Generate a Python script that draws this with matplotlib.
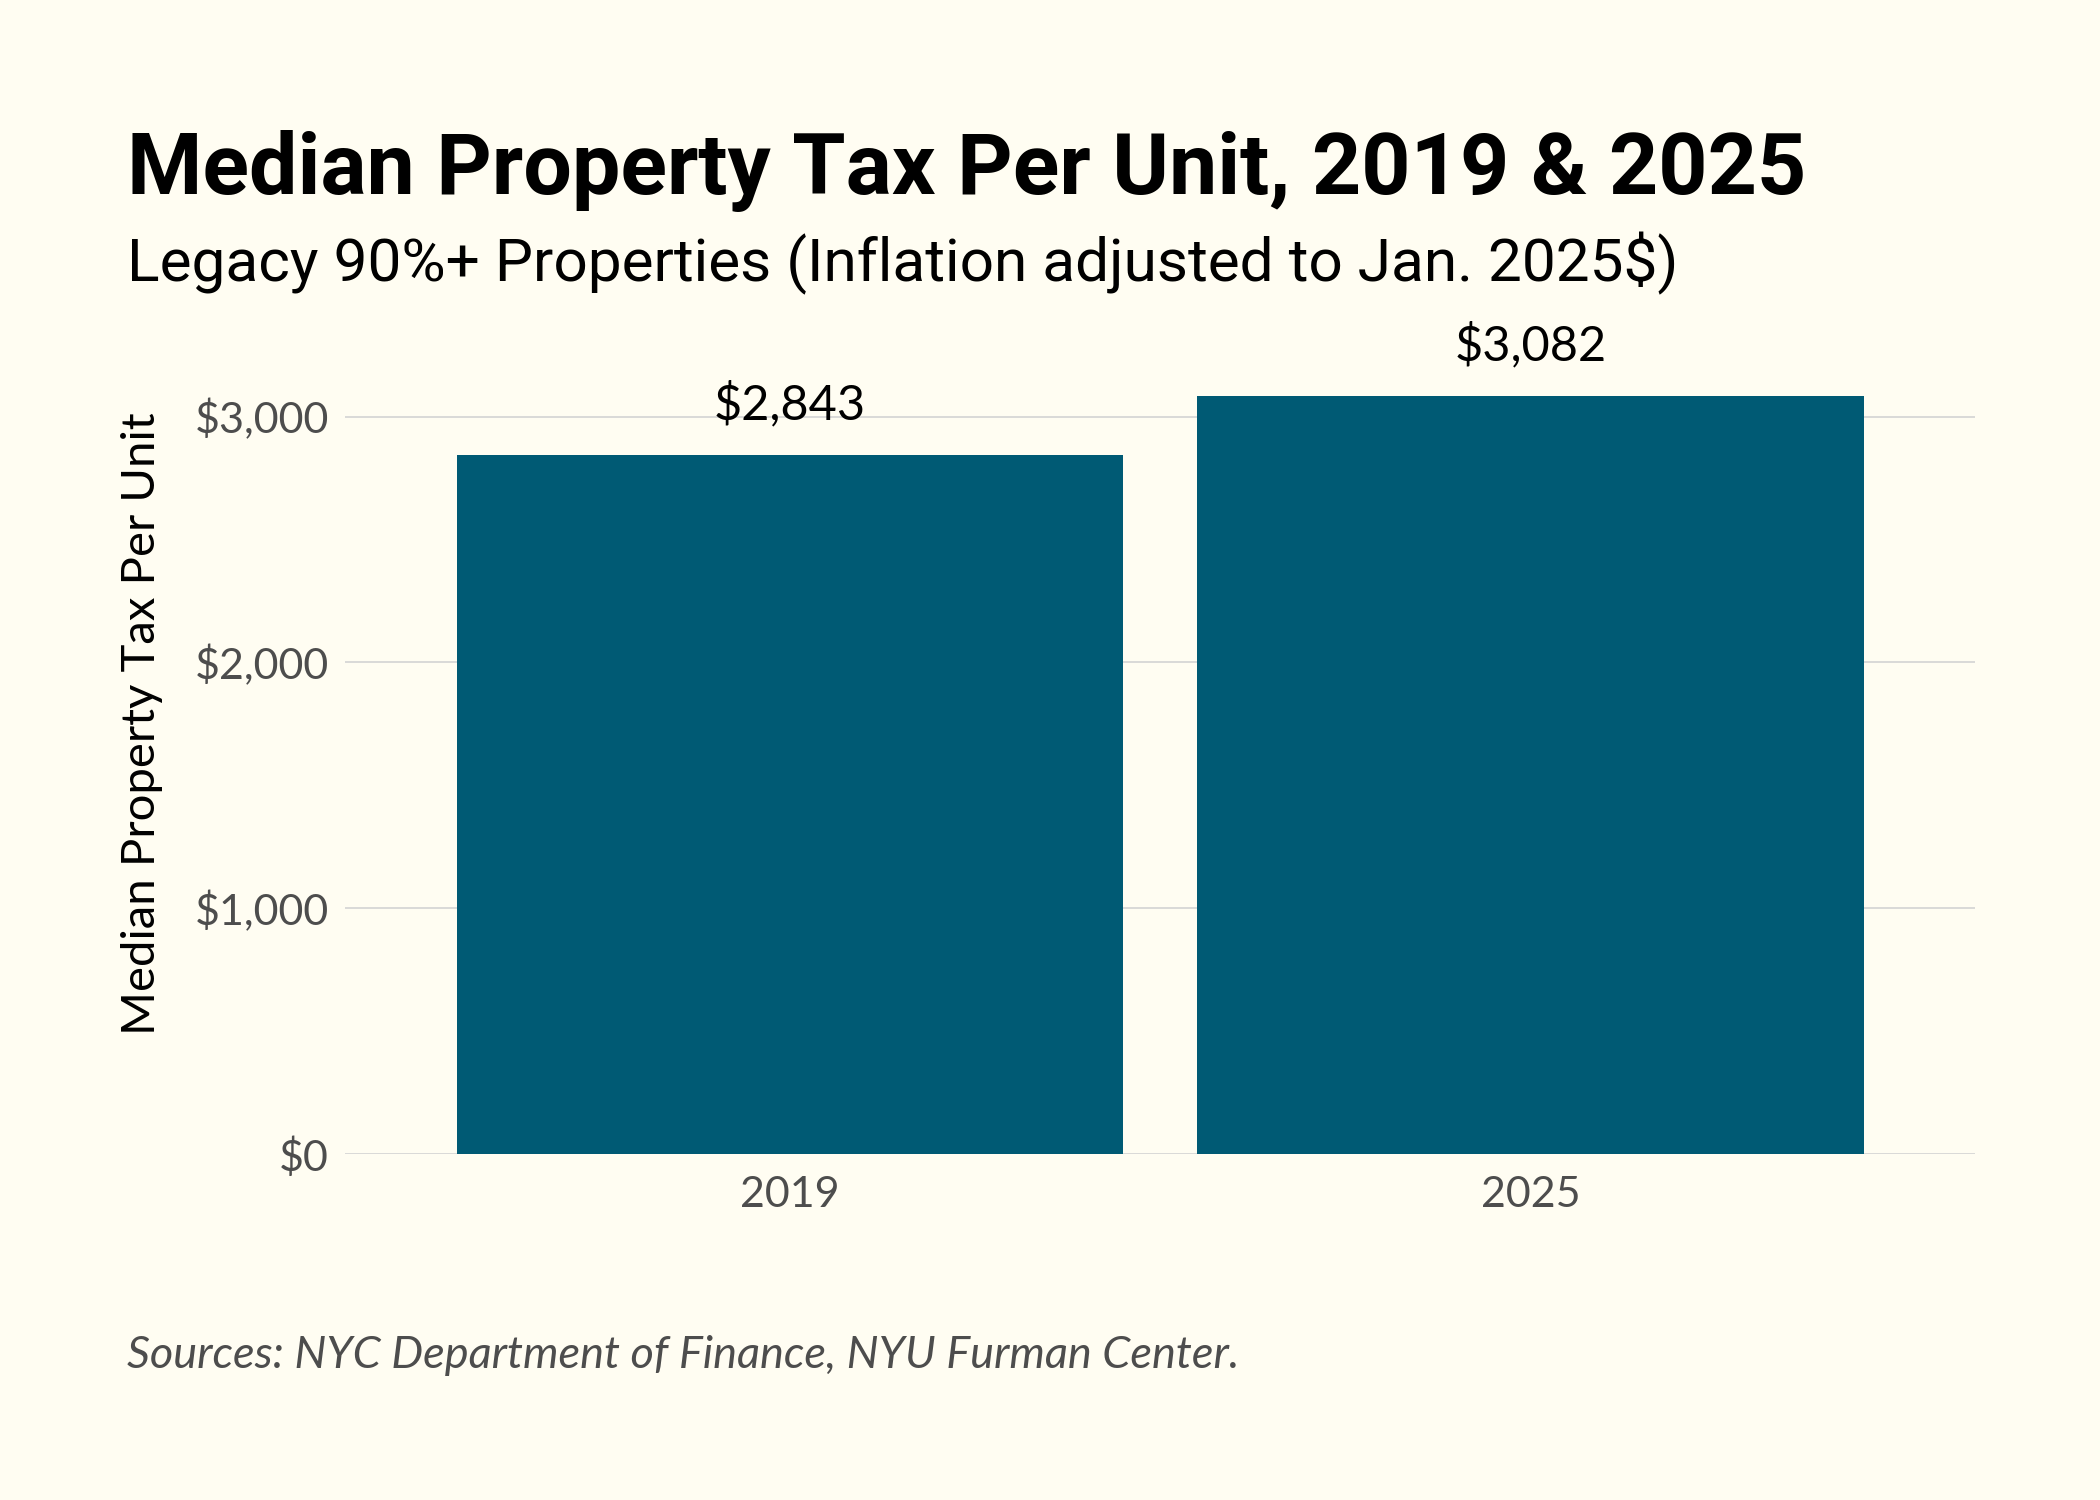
import matplotlib
matplotlib.use("Agg")
import matplotlib.pyplot as plt

years = ["2019", "2025"]
values = [2843, 3082]
value_labels = ["$2,843", "$3,082"]
yticks = [0, 1000, 2000, 3000]
ytick_labels = ["$0", "$1,000", "$2,000", "$3,000"]

title = "Median Property Tax Per Unit, 2019 & 2025"
subtitle = "Legacy 90%+ Properties (Inflation adjusted to Jan. 2025$)"
ylabel = "Median Property Tax Per Unit"
caption = "Sources: NYC Department of Finance, NYU Furman Center."

BG = "#FFFDF2"
BAR = "#005A74"
GRID = "#D3D3D3"
TICK = "#4D4D4D"

fig = plt.figure(figsize=(21, 15), dpi=100, facecolor=BG)
ax = fig.add_axes([0.1645, 0.2307, 0.776, 0.5303], facecolor=BG)

x = list(range(1, len(years) + 1))
ax.bar(x, values, width=0.9, color=BAR, zorder=2)
ax.set_xlim(0.4, 2.6)
ax.set_ylim(0, max(values) * 1.05)
ax.set_yticks(yticks)
ax.set_yticklabels(ytick_labels)
ax.set_xticks(x)
ax.set_xticklabels(years)
ax.grid(axis="y", color=GRID, linewidth=1.2, zorder=0)
ax.grid(axis="x", visible=False)
for s in ax.spines.values():
    s.set_visible(False)
ax.tick_params(axis="both", length=0, labelsize=31, labelcolor=TICK)
ax.tick_params(axis="y", pad=12)
ax.tick_params(axis="x", pad=16)
for lab in ax.get_xticklabels() + ax.get_yticklabels():
    lab.set_fontfamily("Lato")

ax.set_ylabel(ylabel, fontsize=34, fontfamily="Lato", color="black")
ax.yaxis.set_label_coords(-0.112, 0.541)

for xi, v, lab in zip(x, values, value_labels):
    ax.annotate(lab, (xi, v), xytext=(0, 20), textcoords="offset points",
                ha="center", va="bottom", fontsize=35, fontfamily="Lato", color="black")

fig.text(127 / 2100, 1 - 194 / 1500, title, fontsize=62, fontweight="bold",
         fontfamily="Roboto", color="black", ha="left", va="baseline")
fig.text(127 / 2100, 1 - 281 / 1500, subtitle, fontsize=43.5,
         fontfamily="Roboto", color="black", ha="left", va="baseline")
fig.text(127 / 2100, 1 - 1368 / 1500, caption, fontsize=32.5, fontstyle="italic",
         fontfamily="Lato", color=TICK, ha="left", va="baseline")

fig.savefig("out.png", dpi=100, facecolor=BG)
